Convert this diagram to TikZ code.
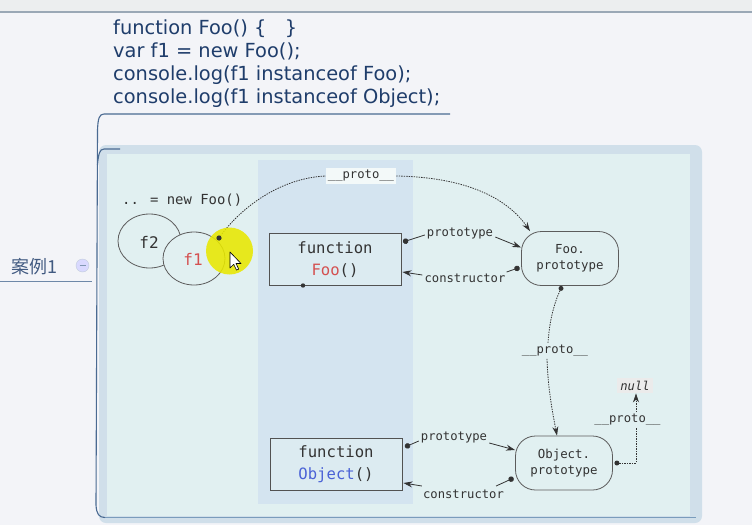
\documentclass[tikz,border=0pt]{standalone}
\usepackage{fontspec}
\setmainfont{DejaVu Sans}
\newfontfamily\dmono{DejaVu Sans Mono}
\newfontfamily\cjk{Noto Sans CJK SC}
\usetikzlibrary{arrows.meta,calc}
\definecolor{bgc}{HTML}{F3F4F8}
\definecolor{topbar}{HTML}{ECEEEF}
\definecolor{topline}{HTML}{9AA8B6}
\definecolor{navy}{HTML}{1F3D6B}
\definecolor{brk}{HTML}{4A6A92}
\definecolor{panelb}{HTML}{D0DFEA}
\definecolor{panelf}{HTML}{E1F0F1}
\definecolor{stripc}{HTML}{D4E4F0}
\definecolor{ink}{HTML}{333333}
\definecolor{fooRed}{HTML}{D45050}
\definecolor{objBlue}{HTML}{4A62D6}
\definecolor{hilite}{HTML}{E8E800}
\definecolor{botline}{HTML}{7A9CBC}
\begin{document}
\begin{tikzpicture}[x=1pt,y=-1pt,
  codetxt/.style={text=navy,inner sep=0pt,font=\fontsize{19.4}{22}\selectfont},
  monotxt/.style={text=ink,inner sep=0pt,font=\dmono\fontsize{12.2}{14}\selectfont},
  fbox/.style={draw=ink!85,line width=0.8pt,fill=panelf!60!stripc,minimum width=132pt,minimum height=52pt,
     align=center,text=ink,font=\dmono\fontsize{15.6}{22}\selectfont,inner sep=0pt},
  pbox/.style={draw=ink!80,line width=0.8pt,rounded corners=20pt,minimum width=97pt,minimum height=54pt,
     align=center,text=ink,font=\dmono\fontsize{12.4}{16.5}\selectfont,inner sep=0pt},
  solidarr/.style={draw=ink,line width=0.8pt,-{Stealth[length=9pt,width=6pt]}},
  startdot/.style={draw=ink,line width=0.8pt,{Circle[length=5.5pt,width=5.5pt]}-},
  protoline/.style={draw=ink,line width=0.8pt,dash pattern=on 1.4pt off 1.1pt},
  protoarr/.style={protoline,-{Stealth[length=9pt,width=6pt]}},
  tag/.style={monotxt,inner xsep=2pt,inner ysep=2pt}
]
\useasboundingbox (0,0) rectangle (752,525);
% background
\fill[bgc] (0,0) rectangle (752,525);
\fill[topbar] (0,0) rectangle (752,11);
\draw[topline,line width=2.2pt] (0,12) -- (752,12);

% code lines
\node[codetxt,anchor=base west] (c1) at (113,34) {function Foo() \{\ \ \ \}};
\node[codetxt,anchor=base west] (c2) at (113,57) {var f1 = new Foo();};
\node[codetxt,anchor=base west] (c3) at (113,80) {console.log(f1 instanceof Foo);};
\node[codetxt,anchor=base west] (c4) at (113,103) {console.log(f1 instanceof Object);};

% panel
\fill[panelb,rounded corners=7pt] (99,145) rectangle (702,523);
\fill[panelf] (107,154) rectangle (690,516);
\fill[stripc] (258,160) rectangle (413,504);
\draw[botline,line width=1.6pt] (104,517.5) -- (696,517.5);

% bracket
\draw[brk,line width=1.1pt] (450,114) -- (104,114) .. controls (99,114) and (98,119) .. (97.5,130)
  -- (96,505) .. controls (96.5,514) and (99,517.5) .. (105,517.5);
\draw[brk,line width=1.1pt] (120,149) -- (104,149) .. controls (99.5,149) and (98.5,154) .. (97.5,165);

% case label
\node[anchor=base west,inner sep=0pt,text=navy!85,font=\cjk\fontsize{18}{18}\selectfont] (case) at (11,273) {案例1};
\draw[brk!80,line width=1pt] (0,281) -- (92,281);
\node[circle,draw=brk!35,fill=blue!15!white,minimum size=13pt,inner sep=0pt] (fold) at (82.5,265.5) {};
\draw[brk!70,line width=0.9pt] ([xshift=-3pt]fold.center) -- ([xshift=3pt]fold.center);

% instances
\node[monotxt,font=\dmono\fontsize{13.9}{14}\selectfont,anchor=west] (newfoo) at (122,200) {.. = new Foo()};
\draw[ink!80,line width=0.8pt,fill=panelf] (149.5,241) ellipse [x radius=31.5pt,y radius=27pt];
\node[text=ink,font=\dmono\fontsize{16}{16}\selectfont] (f2) at (149,242) {f2};
\draw[ink!80,line width=0.8pt,fill=panelf] (194,258.5) ellipse [x radius=31pt,y radius=26.5pt];
\node[text=fooRed,font=\dmono\fontsize{16}{16}\selectfont] (f1) at (193,259) {f1};
\coordinate (f1dot) at (219,238);

% function boxes
\node[fbox] (foo) at (335,259.5) {function\\\textcolor{fooRed}{Foo}()};
\node[fbox] (obj) at (336,464.5) {function\\\textcolor{objBlue}{Object}()};
\fill[ink] (303,285.5) circle (2.2pt);

% prototype objects
\node[pbox] (fp) at (570,258.5) {Foo.\\prototype};
\node[pbox] (op) at (564,463) {Object.\\prototype};

% labels
\node[tag,fill=panelf!40!white] (ptop) at (361,176) {\_\_proto\_\_};
\node[monotxt] (fpro) at (460,233) {prototype};
\node[monotxt] (fcon) at (465,278) {constructor};
\node[monotxt] (opro) at (454,437) {prototype};
\node[monotxt] (ocon) at (463.5,494) {constructor};
\node[tag] (pmid) at (555,351) {\_\_proto\_\_};
\node[tag] (pright) at (627.5,420) {\_\_proto\_\_};
\node[monotxt,fill=black!8,inner xsep=3pt,inner ysep=3pt,font=\dmono\itshape\fontsize{12.2}{14}\selectfont] (nul) at (635,385.5) {null};

% proto chain f1 -> Foo.prototype
\draw[protoline] (f1dot) .. controls (240,208) and (280,178) .. (ptop.west);
\draw[protoarr] (ptop.east) .. controls (460,177) and (505,195) .. ([xshift=-40pt]fp.north);

% Foo <-> Foo.prototype
\draw[startdot] (403,242) -- ([xshift=-2pt,yshift=-2pt]fpro.west);
\draw[solidarr] ([xshift=2pt,yshift=-4pt]fpro.east) -- ([yshift=11pt]fp.west);
\draw[startdot] ([xshift=-1.5pt,yshift=-9pt]fp.west) -- ([xshift=1pt,yshift=6pt]fcon.east);
\draw[solidarr] ([xshift=-2pt,yshift=3pt]fcon.west) -- ([xshift=1pt,yshift=-12.5pt]foo.east);

% Foo.prototype -> Object.prototype
\draw[protoline] ([xshift=-9pt,yshift=-2.5pt]fp.south) .. controls (553,305) and (549,325) .. ([xshift=-7pt]pmid.north);
\draw[protoarr] ([xshift=-8pt]pmid.south) .. controls (548,390) and (553,415) .. ([xshift=-7pt]op.north);
\fill[ink] ([xshift=-9pt,yshift=-2.5pt]fp.south) circle (2.5pt);

% Object <-> Object.prototype
\draw[startdot] (405,447) -- ([xshift=-2pt,yshift=-4pt]opro.west);
\draw[solidarr] ([xshift=2pt,yshift=-6pt]opro.east) -- ([yshift=13pt]op.west);
\draw[startdot] ([xshift=-1.5pt,yshift=-15pt]op.west) -- ([xshift=-8pt,yshift=8pt]ocon.east);
\draw[solidarr] ([xshift=-1pt,yshift=8pt]ocon.west) -- ([xshift=1pt,yshift=-18.5pt]obj.east);

% Object.prototype -> null
\coordinate (corner) at (636,463);
\draw[protoline] ([xshift=4pt]op.east) -- (corner) -- (corner |- pright.south);
\draw[protoarr] (corner |- pright.north) -- (corner |- nul.south);
\fill[ink] ([xshift=4pt]op.east) circle (2.5pt);

% highlight and cursor
\fill[hilite,opacity=0.88] (229.5,251) circle (23.5pt);
\fill[ink] (f1dot) circle (2.6pt);
\draw[black,line width=0.6pt,fill=white,line join=round] (230,252) -- ++(0,16) -- ++(3.7,-3.7) -- ++(2.8,5.8) -- ++(2.2,-1) -- ++(-2.7,-5.6) -- ++(5,0) -- cycle;
\end{tikzpicture}
\end{document}
